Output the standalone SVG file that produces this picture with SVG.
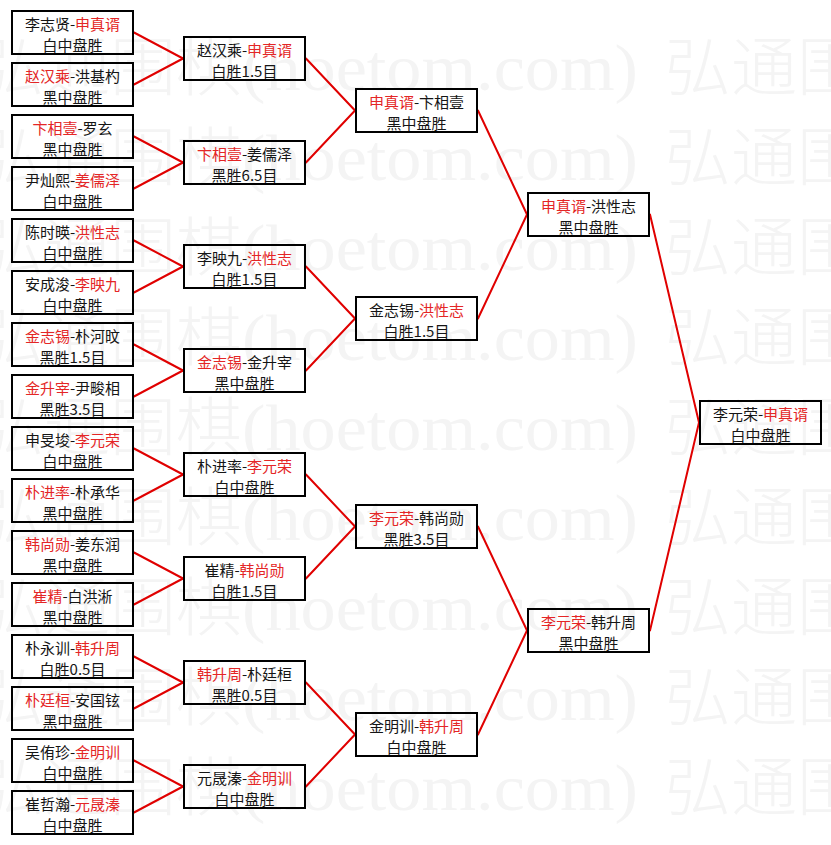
<svg xmlns="http://www.w3.org/2000/svg" xmlns:xlink="http://www.w3.org/1999/xlink" width="831" height="845" viewBox="0 0 831 845">
<style>
.node rect{fill:none;stroke:#000;stroke-width:2}
.node text{font-family:"Noto Sans CJK SC","Noto Sans CJK TC",sans-serif;font-size:15px;text-anchor:middle;fill:#151515}
.node .r{fill:#e42626}
.conn line{stroke:#e00000;stroke-width:2;stroke-linecap:round}
.wmc{font-family:"Noto Sans CJK SC",sans-serif;font-size:64px;font-weight:300}
.wml{font-family:"Liberation Serif",serif;font-size:66px}
</style>
<defs>
<g id="wmrow">
<text class="wmc" x="-22" textLength="264" lengthAdjust="spacingAndGlyphs" fill="#f4f4f4">弘通围棋</text>
<text class="wml" x="242" textLength="396" lengthAdjust="spacingAndGlyphs" fill="#f4f4f4">(hoetom.com)</text>
<text class="wmc" x="665" textLength="264" lengthAdjust="spacingAndGlyphs" fill="#f4f4f4">弘通围棋</text>
</g>
</defs>
<rect x="0" y="0" width="831" height="845" fill="#fff"/>
<g class="wm">
<use xlink:href="#wmrow" y="90"/>
<use xlink:href="#wmrow" y="180"/>
<use xlink:href="#wmrow" y="270"/>
<use xlink:href="#wmrow" y="360"/>
<use xlink:href="#wmrow" y="450"/>
<use xlink:href="#wmrow" y="540"/>
<use xlink:href="#wmrow" y="630"/>
<use xlink:href="#wmrow" y="720"/>
<use xlink:href="#wmrow" y="810"/>
</g>
<g class="conn">
<line x1="134" y1="32.5" x2="183" y2="58.5"/>
<line x1="134" y1="84.5" x2="183" y2="58.5"/>
<line x1="134" y1="136.5" x2="183" y2="162.5"/>
<line x1="134" y1="188.5" x2="183" y2="162.5"/>
<line x1="134" y1="240.5" x2="183" y2="266.5"/>
<line x1="134" y1="292.5" x2="183" y2="266.5"/>
<line x1="134" y1="344.5" x2="183" y2="370.5"/>
<line x1="134" y1="396.5" x2="183" y2="370.5"/>
<line x1="134" y1="448.5" x2="183" y2="474.5"/>
<line x1="134" y1="500.5" x2="183" y2="474.5"/>
<line x1="134" y1="552.5" x2="183" y2="578.5"/>
<line x1="134" y1="604.5" x2="183" y2="578.5"/>
<line x1="134" y1="656.5" x2="183" y2="682.5"/>
<line x1="134" y1="708.5" x2="183" y2="682.5"/>
<line x1="134" y1="760.5" x2="183" y2="786.5"/>
<line x1="134" y1="812.5" x2="183" y2="786.5"/>
<line x1="306" y1="58.5" x2="355" y2="110.5"/>
<line x1="306" y1="162.5" x2="355" y2="110.5"/>
<line x1="306" y1="266.5" x2="355" y2="318.5"/>
<line x1="306" y1="370.5" x2="355" y2="318.5"/>
<line x1="306" y1="474.5" x2="355" y2="526.5"/>
<line x1="306" y1="578.5" x2="355" y2="526.5"/>
<line x1="306" y1="682.5" x2="355" y2="734.5"/>
<line x1="306" y1="786.5" x2="355" y2="734.5"/>
<line x1="478" y1="110.5" x2="527" y2="214.5"/>
<line x1="478" y1="318.5" x2="527" y2="214.5"/>
<line x1="478" y1="526.5" x2="527" y2="630.5"/>
<line x1="478" y1="734.5" x2="527" y2="630.5"/>
<line x1="650" y1="214.5" x2="699" y2="422.5"/>
<line x1="650" y1="630.5" x2="699" y2="422.5"/>
</g>
<g id="r1-01" class="node"><rect x="12" y="11" width="121" height="43"/><text x="72.5" y="30">李志贤-<tspan class="r">申真谞</tspan></text><text x="72.5" y="51">白中盘胜</text></g>
<g id="r1-02" class="node"><rect x="12" y="63" width="121" height="43"/><text x="72.5" y="82"><tspan class="r">赵汉乘</tspan>-洪基杓</text><text x="72.5" y="103">黑中盘胜</text></g>
<g id="r1-03" class="node"><rect x="12" y="115" width="121" height="43"/><text x="72.5" y="134"><tspan class="r">卞相壹</tspan>-罗玄</text><text x="72.5" y="155">黑中盘胜</text></g>
<g id="r1-04" class="node"><rect x="12" y="167" width="121" height="43"/><text x="72.5" y="186">尹灿熙-<tspan class="r">姜儒泽</tspan></text><text x="72.5" y="207">白中盘胜</text></g>
<g id="r1-05" class="node"><rect x="12" y="219" width="121" height="43"/><text x="72.5" y="238">陈时暎-<tspan class="r">洪性志</tspan></text><text x="72.5" y="259">白中盘胜</text></g>
<g id="r1-06" class="node"><rect x="12" y="271" width="121" height="43"/><text x="72.5" y="290">安成浚-<tspan class="r">李映九</tspan></text><text x="72.5" y="311">白中盘胜</text></g>
<g id="r1-07" class="node"><rect x="12" y="323" width="121" height="43"/><text x="72.5" y="342"><tspan class="r">金志锡</tspan>-朴河旼</text><text x="72.5" y="363">黑胜1.5目</text></g>
<g id="r1-08" class="node"><rect x="12" y="375" width="121" height="43"/><text x="72.5" y="394"><tspan class="r">金升宰</tspan>-尹畯相</text><text x="72.5" y="415">黑胜3.5目</text></g>
<g id="r1-09" class="node"><rect x="12" y="427" width="121" height="43"/><text x="72.5" y="446">申旻埈-<tspan class="r">李元荣</tspan></text><text x="72.5" y="467">白中盘胜</text></g>
<g id="r1-10" class="node"><rect x="12" y="479" width="121" height="43"/><text x="72.5" y="498"><tspan class="r">朴进率</tspan>-朴承华</text><text x="72.5" y="519">黑中盘胜</text></g>
<g id="r1-11" class="node"><rect x="12" y="531" width="121" height="43"/><text x="72.5" y="550"><tspan class="r">韩尚勋</tspan>-姜东润</text><text x="72.5" y="571">黑中盘胜</text></g>
<g id="r1-12" class="node"><rect x="12" y="583" width="121" height="43"/><text x="72.5" y="602"><tspan class="r">崔精</tspan>-白洪淅</text><text x="72.5" y="623">黑中盘胜</text></g>
<g id="r1-13" class="node"><rect x="12" y="635" width="121" height="43"/><text x="72.5" y="654">朴永训-<tspan class="r">韩升周</tspan></text><text x="72.5" y="675">白胜0.5目</text></g>
<g id="r1-14" class="node"><rect x="12" y="687" width="121" height="43"/><text x="72.5" y="706"><tspan class="r">朴廷桓</tspan>-安国铉</text><text x="72.5" y="727">黑中盘胜</text></g>
<g id="r1-15" class="node"><rect x="12" y="739" width="121" height="43"/><text x="72.5" y="758">吴侑珍-<tspan class="r">金明训</tspan></text><text x="72.5" y="779">白中盘胜</text></g>
<g id="r1-16" class="node"><rect x="12" y="791" width="121" height="43"/><text x="72.5" y="810">崔哲瀚-<tspan class="r">元晟溱</tspan></text><text x="72.5" y="831">白中盘胜</text></g>
<g id="r2-1" class="node"><rect x="184" y="37" width="121" height="43"/><text x="244.5" y="56">赵汉乘-<tspan class="r">申真谞</tspan></text><text x="244.5" y="77">白胜1.5目</text></g>
<g id="r2-2" class="node"><rect x="184" y="141" width="121" height="43"/><text x="244.5" y="160"><tspan class="r">卞相壹</tspan>-姜儒泽</text><text x="244.5" y="181">黑胜6.5目</text></g>
<g id="r2-3" class="node"><rect x="184" y="245" width="121" height="43"/><text x="244.5" y="264">李映九-<tspan class="r">洪性志</tspan></text><text x="244.5" y="285">白胜1.5目</text></g>
<g id="r2-4" class="node"><rect x="184" y="349" width="121" height="43"/><text x="244.5" y="368"><tspan class="r">金志锡</tspan>-金升宰</text><text x="244.5" y="389">黑中盘胜</text></g>
<g id="r2-5" class="node"><rect x="184" y="453" width="121" height="43"/><text x="244.5" y="472">朴进率-<tspan class="r">李元荣</tspan></text><text x="244.5" y="493">白中盘胜</text></g>
<g id="r2-6" class="node"><rect x="184" y="557" width="121" height="43"/><text x="244.5" y="576">崔精-<tspan class="r">韩尚勋</tspan></text><text x="244.5" y="597">白胜1.5目</text></g>
<g id="r2-7" class="node"><rect x="184" y="661" width="121" height="43"/><text x="244.5" y="680"><tspan class="r">韩升周</tspan>-朴廷桓</text><text x="244.5" y="701">黑胜0.5目</text></g>
<g id="r2-8" class="node"><rect x="184" y="765" width="121" height="43"/><text x="244.5" y="784">元晟溱-<tspan class="r">金明训</tspan></text><text x="244.5" y="805">白中盘胜</text></g>
<g id="r3-1" class="node"><rect x="356" y="89" width="121" height="43"/><text x="416.5" y="108"><tspan class="r">申真谞</tspan>-卞相壹</text><text x="416.5" y="129">黑中盘胜</text></g>
<g id="r3-2" class="node"><rect x="356" y="297" width="121" height="43"/><text x="416.5" y="316">金志锡-<tspan class="r">洪性志</tspan></text><text x="416.5" y="337">白胜1.5目</text></g>
<g id="r3-3" class="node"><rect x="356" y="505" width="121" height="43"/><text x="416.5" y="524"><tspan class="r">李元荣</tspan>-韩尚勋</text><text x="416.5" y="545">黑胜3.5目</text></g>
<g id="r3-4" class="node"><rect x="356" y="713" width="121" height="43"/><text x="416.5" y="732">金明训-<tspan class="r">韩升周</tspan></text><text x="416.5" y="753">白中盘胜</text></g>
<g id="r4-1" class="node"><rect x="528" y="193" width="121" height="43"/><text x="588.5" y="212"><tspan class="r">申真谞</tspan>-洪性志</text><text x="588.5" y="233">黑中盘胜</text></g>
<g id="r4-2" class="node"><rect x="528" y="609" width="121" height="43"/><text x="588.5" y="628"><tspan class="r">李元荣</tspan>-韩升周</text><text x="588.5" y="649">黑中盘胜</text></g>
<g id="final" class="node"><rect x="700" y="401" width="121" height="43"/><text x="760.5" y="420">李元荣-<tspan class="r">申真谞</tspan></text><text x="760.5" y="441">白中盘胜</text></g>
</svg>
